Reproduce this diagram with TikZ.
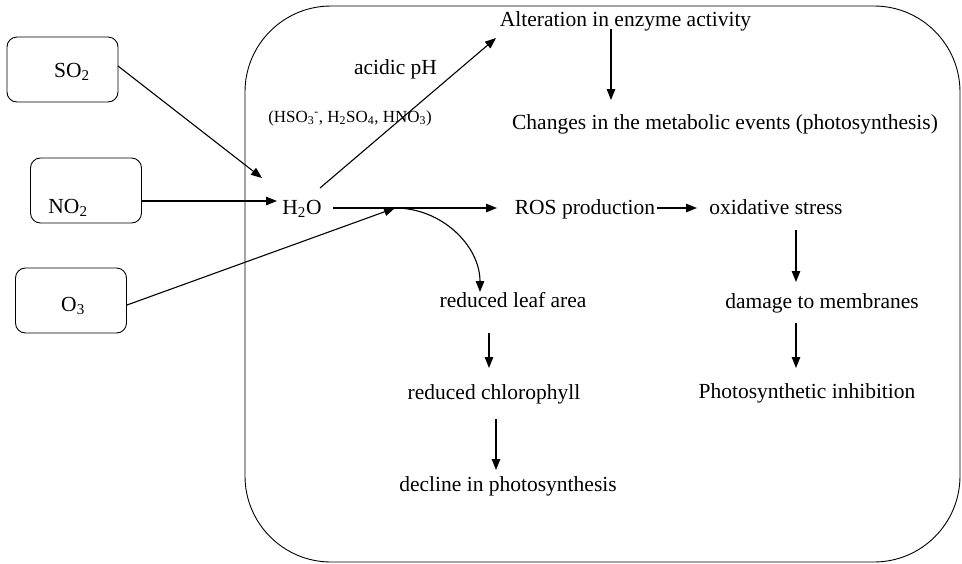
\documentclass[tikz,border=0pt]{standalone}
\usepackage{fontspec}
\setmainfont{Liberation Serif}
\usetikzlibrary{arrows.meta}
\begin{document}
\begin{tikzpicture}[x=1pt,y=-1pt,
  txt/.style={inner sep=0pt, text height=15pt, text depth=5pt, font=\fontsize{21.5}{25}\selectfont},
  smalltxt/.style={inner sep=0pt, text height=12pt, text depth=4pt, font=\fontsize{17}{20}\selectfont},
  srcbox/.style={draw, rounded corners=10pt, minimum width=111pt, minimum height=65pt, line width=0.9pt},
  arr/.style={-{Triangle[length=11pt,width=8.5pt]}, line width=1.1pt},
  line width=0.9pt]
\useasboundingbox (0,0) rectangle (962,563);
% cell
\draw[rounded corners=86pt] (245,6) rectangle (960,562);
% sources
\node[srcbox] (so2) at (62.5,69.5) {};
\node[txt] (so2t) at (72,72) {SO\textsubscript{2}};
\node[srcbox] (no2) at (86,190.5) {};
\node[txt] (no2t) at (68,208) {NO\textsubscript{2}};
\node[srcbox] (o3) at (71,300.5) {};
\node[txt] (o3t) at (73,306) {O\textsubscript{3}};
% texts
\node[txt] (h2o) at (302,209) {H\textsubscript{2}O};
\node[txt] (acid) at (395.5,69) {acidic pH};
\node[smalltxt] (ions) at (350,118) {(HSO\textsubscript{3}\textsuperscript{-}, H\textsubscript{2}SO\textsubscript{4}, HNO\textsubscript{3})};
\node[txt] (alt) at (625.5,21) {Alteration in enzyme activity};
\node[txt] (chg) at (725,124) {Changes in the metabolic events (photosynthesis)};
\node[txt] (ros) at (585,209) {ROS production};
\node[txt] (ox) at (776,209) {oxidative stress};
\node[txt] (dmg) at (822,303) {damage to membranes};
\node[txt] (inh) at (807,393) {Photosynthetic inhibition};
\node[txt] (leaf) at (513,302) {reduced leaf area};
\node[txt] (chl) at (494,394) {reduced chlorophyll};
\node[txt] (dec) at (508,486) {decline in photosynthesis};
% connector end points
\coordinate (inSO) at (262,178);
\coordinate (outSO) at (118,66);
\coordinate (outNO) at (141,201);
\coordinate (inNO) at (277,201);
\coordinate (outO) at (127,305);
\coordinate (junc) at (395,208);
\coordinate (h2oR) at (333,208);
\coordinate (rosIn) at (497,208);
\coordinate (rosR) at (657,208);
\coordinate (oxIn) at (697,208);
\coordinate (h2oUp) at (320,188);
\coordinate (altIn) at (496,38);
\coordinate (altD) at (611,29);
\coordinate (chgIn) at (611,100);
\coordinate (oxD) at (796,230);
\coordinate (dmgIn) at (796,282);
\coordinate (dmgD) at (796,323);
\coordinate (inhIn) at (796,368);
\coordinate (leafIn) at (480,292);
\coordinate (leafD) at (489,333);
\coordinate (chlIn) at (489,368);
\coordinate (chlD) at (496,419);
\coordinate (decIn) at (496,470);
% connectors
\draw[arr] (outSO) -- (inSO);
\draw[arr] (outNO) -- (inNO);
\draw[arr] (outO) -- (junc);
\draw[arr] (h2oR) -- (rosIn);
\draw[arr] (rosR) -- (oxIn);
\draw[arr] (h2oUp) -- (altIn);
\draw[arr] (altD) -- (chgIn);
\draw[arr] (oxD) -- (dmgIn);
\draw[arr] (dmgD) -- (inhIn);
\draw[arr] (junc) .. controls (442,208) and (480,246) .. (leafIn);
\draw[arr] (leafD) -- (chlIn);
\draw[arr] (chlD) -- (decIn);
\end{tikzpicture}
\end{document}
